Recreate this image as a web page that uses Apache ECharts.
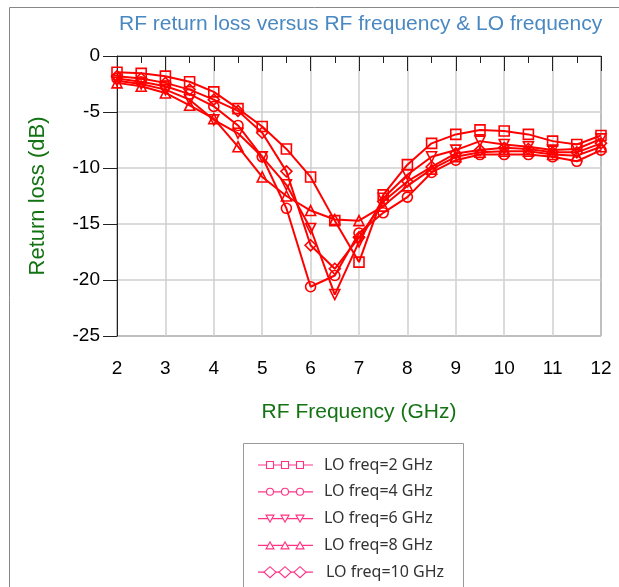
<!DOCTYPE html>
<html>
<head>
<meta charset="utf-8">
<script src="https://cdn.jsdelivr.net/npm/echarts@6/dist/echarts.min.js"></script>
<style>html,body{margin:0;padding:0;background:#fff;}#c{width:619px;height:587px;}</style>
</head>
<body>
<div id="c"></div>
<script>
const freqs = [2, 2.5, 3, 3.5, 4, 4.5, 5, 5.5, 6, 6.5, 7, 7.5, 8, 8.5, 9, 9.5, 10, 10.5, 11, 11.5, 12];
const lo2  = [-1.45, -1.55, -1.8, -2.3, -3.2, -4.7, -6.3, -8.3, -10.8, -14.7, -18.4, -12.4, -9.7, -7.8, -7.0, -6.6, -6.7, -7.0, -7.6, -7.9, -7.1];
const lo4  = [-2.0, -2.3, -2.7, -3.4, -4.5, -6.2, -9.0, -13.6, -20.6, -19.6, -15.8, -14.0, -12.6, -10.4, -9.3, -8.8, -8.8, -8.8, -9.0, -9.4, -8.4];
const lo6  = [-2.2, -2.5, -3.0, -3.9, -5.7, -6.9, -9.0, -11.5, -15.4, -21.3, -16.6, -12.7, -10.6, -9.0, -8.4, -7.6, -7.9, -8.1, -8.4, -8.3, -7.4];
const lo8  = [-2.4, -2.7, -3.3, -4.4, -5.6, -8.1, -10.8, -12.5, -13.8, -14.6, -14.7, -13.4, -11.6, -10.1, -9.0, -8.6, -8.5, -8.5, -8.8, -8.9, -8.1];
const lo10 = [-1.8, -2.0, -2.4, -3.0, -3.9, -4.9, -6.85, -10.3, -16.9, -19.0, -16.2, -13.0, -11.2, -9.9, -8.7, -8.4, -8.2, -8.3, -8.6, -8.6, -7.8];
const seriesNames = ['LO freq=2 GHz', 'LO freq=4 GHz', 'LO freq=6 GHz', 'LO freq=8 GHz', 'LO freq=10 GHz'];
const seriesValues = [lo2, lo4, lo6, lo8, lo10];
const xTicks = [2, 3, 4, 5, 6, 7, 8, 9, 10, 11, 12];
const yTicks = [0, -5, -10, -15, -20, -25];

const symbols = ['rect', 'circle', 'triangle', 'triangle', 'diamond'];
const rotates = [0, 0, 180, 0, 0];
const sizes = [10, 10, 10, 10, 11];
const RED = '#ff0000';
const PINK = '#ff3385';
const FONT = '"Liberation Sans", Arial, sans-serif';

const series = seriesValues.map((vals, k) => ({
  name: seriesNames[k],
  type: 'line',
  data: freqs.map((f, i) => [f, vals[i]]),
  symbol: symbols[k],
  symbolRotate: rotates[k],
  symbolSize: sizes[k],
  showAllSymbol: true,
  lineStyle: { color: RED, width: 2 },
  itemStyle: { color: 'rgba(255,255,255,0)', borderColor: RED, borderWidth: 1.6 },
  emphasis: { disabled: true },
  animation: false,
  z: 3
}));

// legend drawn as graphics
const legendEls = [];
legendEls.push({ type: 'rect', shape: { x: 243.5, y: 443.5, width: 220, height: 200 },
  style: { fill: '#fff', stroke: '#999', lineWidth: 1 }, z: 10 });
const markerXs = [270, 285, 300];
seriesNames.forEach((nm, k) => {
  const cy = 465 + k * 26.8;
  legendEls.push({ type: 'line', shape: { x1: 258, y1: cy, x2: 313, y2: cy },
    style: { stroke: PINK, lineWidth: 1.2 }, z: 11 });
  markerXs.forEach(mx => {
    let el;
    const st = { fill: '#fff', stroke: PINK, lineWidth: 1.1 };
    if (symbols[k] === 'rect') {
      el = { type: 'rect', shape: { x: mx - 3.5, y: cy - 3.5, width: 7, height: 7 }, style: st };
    } else if (symbols[k] === 'circle') {
      el = { type: 'circle', shape: { cx: mx, cy: cy, r: 3.5 }, style: st };
    } else if (symbols[k] === 'triangle' && rotates[k] === 180) {
      el = { type: 'polygon', shape: { points: [[mx - 4, cy - 3.5], [mx + 4, cy - 3.5], [mx, cy + 3.5]] }, style: st };
    } else if (symbols[k] === 'triangle') {
      el = { type: 'polygon', shape: { points: [[mx - 4, cy + 3.5], [mx + 4, cy + 3.5], [mx, cy - 3.5]] }, style: st };
    } else {
      el = { type: 'polygon', shape: { points: [[mx - 6, cy], [mx, cy - 5.5], [mx + 6, cy], [mx, cy + 5.5]] }, style: st };
    }
    el.z = 12;
    legendEls.push(el);
  });
  legendEls.push({ type: 'text', x: k === 4 ? 326 : 324, y: cy, style: { text: nm, fill: '#333',
    font: '16px "Noto Sans", sans-serif', verticalAlign: 'middle', align: 'left' }, z: 12 });
});

const chart = echarts.init(document.getElementById('c'), null, { renderer: 'canvas' });
chart.setOption({
  animation: false,
  backgroundColor: '#fff',
  title: {
    text: 'RF return loss versus RF frequency & LO frequency',
    left: 114, top: 9,
    textStyle: { color: '#4a88c2', fontSize: 21, fontWeight: 'normal', fontFamily: FONT }
  },
  grid: { left: 117, right: 18, top: 56, bottom: 251, show: true, borderColor: '#222', borderWidth: 1, backgroundColor: 'transparent' },
  xAxis: {
    type: 'value', min: xTicks[0], max: xTicks[xTicks.length - 1], interval: 1,
    name: 'RF Frequency (GHz)', nameLocation: 'middle', nameGap: 66,
    nameTextStyle: { color: '#137313', fontSize: 21, fontFamily: FONT },
    axisLine: { show: true, lineStyle: { color: '#222', width: 1 } },
    axisTick: { show: true, inside: false, length: 15, lineStyle: { color: '#222' } },
    minorTick: { show: true, splitNumber: 2, length: 7, lineStyle: { color: '#222' } },
    splitLine: { show: true, lineStyle: { color: '#cfcfcf', width: 1.5 } },
    axisLabel: { color: '#000', fontSize: 19, margin: 23, fontFamily: FONT }
  },
  yAxis: {
    type: 'value', min: yTicks[yTicks.length - 1], max: yTicks[0], interval: 5,
    name: 'Return loss (dB)', nameLocation: 'middle', nameGap: 68, nameRotate: 90,
    nameTextStyle: { color: '#137313', fontSize: 22, fontFamily: FONT },
    axisLine: { show: true, lineStyle: { color: '#222', width: 1 } },
    axisTick: { show: true, inside: false, length: 14, lineStyle: { color: '#222' } },
    splitLine: { show: true, lineStyle: { color: '#cfcfcf', width: 1.5 } },
    axisLabel: { color: '#000', fontSize: 19, margin: 17, fontFamily: FONT }
  },
  series: series,
  graphic: [
    { type: 'polyline', shape: { points: [[9.5, 700], [9.5, 7.5], [700, 7.5]] }, style: { stroke: '#888', lineWidth: 1, fill: null }, z: 0 }
  ].concat(legendEls)
});
</script>
</body>
</html>
